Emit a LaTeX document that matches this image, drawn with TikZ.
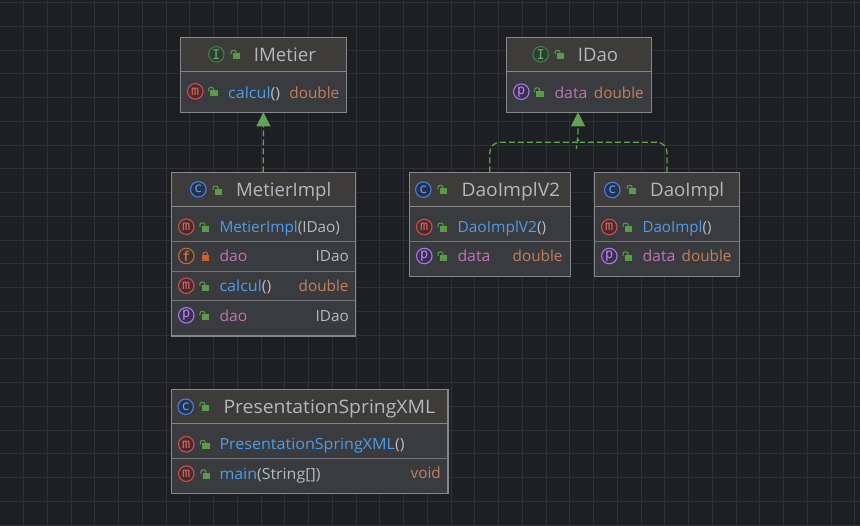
\documentclass[tikz,border=0pt]{standalone}
\usepackage{fontspec}
\usepackage{graphicx}
\setmainfont{Open Sans}
\newfontfamily\iconfont{DejaVu Sans Mono}
\usetikzlibrary{arrows.meta,calc}
\definecolor{bgc}{HTML}{1E1F22}
\definecolor{gridc}{HTML}{2F3033}
\definecolor{headc}{HTML}{3D3C3B}
\definecolor{bodyc}{HTML}{393B3F}
\definecolor{edgec}{HTML}{85878A}
\definecolor{titlec}{HTML}{B4B8BE}
\definecolor{mblue}{HTML}{4F9CE8}
\definecolor{morange}{HTML}{C4805F}
\definecolor{mpurple}{HTML}{BE74B4}
\definecolor{mgrey}{HTML}{B8BAC0}
\definecolor{lockg}{HTML}{5A9A4A}
\definecolor{lockr}{HTML}{C8602F}
\definecolor{depc}{HTML}{64A25A}
\definecolor{mygreen}{HTML}{3F7F45}\definecolor{mygreenf}{HTML}{2C3E2E}\definecolor{mygreent}{HTML}{6AAB73}
\definecolor{myblue}{HTML}{4A7FE0}\definecolor{mybluef}{HTML}{25324D}\definecolor{mybluet}{HTML}{6C9EF5}
\definecolor{myred}{HTML}{C9504F}\definecolor{myredf}{HTML}{4A2A2C}\definecolor{myredt}{HTML}{E06A68}
\definecolor{myorange}{HTML}{B0703F}\definecolor{myorangef}{HTML}{45302A}\definecolor{myoranget}{HTML}{CF8E6D}
\definecolor{mypurple}{HTML}{A67BE0}\definecolor{mypurplef}{HTML}{3A2F52}\definecolor{mypurplet}{HTML}{B58CF0}
\tikzset{
  x=1pt,y=-1pt,
  umlbox/.style={draw=edgec,line width=1.1pt,inner sep=0,outer sep=0},
  titletext/.style={anchor=base west,inner sep=0,text=titlec,font=\fontsize{18.6}{20}\selectfont},
  membertext/.style={anchor=base west,inner sep=0,text=mblue,font=\fontsize{15.3}{18}\selectfont},
  typetext/.style={anchor=base east,inner sep=0,text=morange,font=\fontsize{15.3}{18}\selectfont},
  icon/.style={circle,line width=1.1pt,minimum size=15.5pt,inner sep=0,font=\iconfont\fontsize{13.5}{14}\selectfont},
  icI/.style={icon,draw=mygreen,fill=mygreenf,text=mygreent},
  icC/.style={icon,draw=myblue,fill=mybluef,text=mybluet},
  icM/.style={icon,draw=myred,fill=myredf,text=myredt},
  icF/.style={icon,draw=myorange,fill=myorangef,text=myoranget},
  icP/.style={icon,draw=mypurple,fill=mypurplef,text=mypurplet},
  dep/.style={draw=depc,line width=1.25pt,dash pattern=on 6pt off 3pt},
  tip/.style={-{Triangle[width=14pt,length=14pt,fill=depc]}}
}
\newcommand{\fitw}[2]{\resizebox{#1pt}{\height}{#2}}
\newcommand{\openlk}[2]{%
  \fill[lockg] (#1-2.7,#2-1.7) rectangle (#1+4.8,#2+4.3);
  \draw[lockg,line width=1.1pt,rounded corners=2pt] (#1-4.4,#2-0.6) -- (#1-4.4,#2-4.6) -- (#1+0.6,#2-4.6) -- (#1+0.6,#2-1.5);
}
\newcommand{\closedlk}[2]{%
  \fill[lockr] (#1-3.7,#2-1) rectangle (#1+3.7,#2+4.5);
  \draw[lockr,line width=1.1pt,rounded corners=2pt] (#1-2.2,#2-1) -- (#1-2.2,#2-4.4) -- (#1+2.2,#2-4.4) -- (#1+2.2,#2-1);
}
% name, left, top, right, bottom, header bottom
\newcommand{\ubox}[6]{%
  \fill[bodyc] (#2,#3) rectangle (#4,#5);
  \fill[headc] (#2,#3) rectangle (#4,#6);
  \node[umlbox,minimum width={(#4-#2)*1pt},minimum height={(#5-#3)*1pt}] (#1) at ({(#2+#4)/2},{(#3+#5)/2}) {};
  \draw[edgec,line width=1.1pt] (#2,#6) -- (#4,#6);
}
\newcommand{\rowline}[3]{\draw[edgec!75!bodyc,line width=0.9pt] (#1,#3) -- (#2,#3);}
\newcommand{\gp}[1]{\textcolor{mgrey}{#1}}
\begin{document}
\begin{tikzpicture}
\path[use as bounding box,fill=bgc] (0,0) rectangle (860,526);
\foreach \k in {0,...,35} {\draw[gridc,line width=0.9pt] ({23.5+23.75*\k},0) -- ({23.5+23.75*\k},526);}
\foreach \k in {0,...,22} {\draw[gridc,line width=0.9pt] (0,{2.5+23.75*\k}) -- (860,{2.5+23.75*\k});}

% IMetier
\ubox{imetier}{180.5}{37.4}{346.4}{112.3}{71.8}
\node[icI] (imI) at (216.3,54.3) {I};
\openlk{235.5}{55}
\node[titletext] (imT) at (253.7,61.7) {\fitw{62}{IMetier}};
\node[icM] (imM) at (195.3,91.3) {m};
\openlk{213}{92}
\node[membertext] (imN) at (228,98.3) {\fitw{52}{calcul\gp{()}}};
\node[typetext] (imR) at (339.5,98.3) {double};

% IDao
\ubox{idao}{506.7}{37.4}{651.3}{112.3}{71.8}
\node[icI] (idI) at (540.7,54.3) {I};
\openlk{559.5}{55}
\node[titletext] (idT) at (577.7,61.7) {\fitw{40.3}{IDao}};
\node[icP] (idP) at (521.3,91.7) {p};
\openlk{539}{92.5}
\node[membertext,text=mpurple] (idN) at (554.3,98.3) {\fitw{33}{data}};
\node[typetext] (idR) at (644,98.3) {double};

% MetierImpl
\ubox{mimpl}{171.3}{172.5}{355.3}{336}{206.7}
\rowline{171.3}{355.3}{241.3}
\rowline{171.3}{355.3}{271.3}
\rowline{171.3}{355.3}{300.7}
\node[icC] (miC) at (198.3,189.3) {c};
\openlk{217.5}{190.7}
\node[titletext] (miT) at (236,196.7) {\fitw{95}{MetierImpl}};
\node[icM] (miA) at (186.3,226.7) {m};
\openlk{204.3}{227.5}
\node[membertext] (miAn) at (219.3,232.7) {\fitw{120.5}{MetierImpl\gp{(IDao)}}};
\node[icF] (miB) at (186.3,256) {f};
\closedlk{205.3}{256.5}
\node[membertext,text=mpurple] (miBn) at (219.3,261.7) {\fitw{27.7}{dao}};
\node[typetext,text=mgrey] (miBr) at (349,261.7) {IDao};
\node[icM] (miD) at (186.3,285.7) {m};
\openlk{204.3}{286.5}
\node[membertext] (miDn) at (219.3,291.7) {\fitw{52}{calcul\gp{()}}};
\node[typetext] (miDr) at (348.7,291.7) {double};
\node[icP] (miE) at (186.3,315.3) {p};
\openlk{204.3}{316}
\node[membertext,text=mpurple] (miEn) at (219.3,321.7) {\fitw{27.7}{dao}};
\node[typetext,text=mgrey] (miEr) at (349,321.7) {IDao};

% DaoImplV2
\ubox{dv}{409.3}{172.5}{570.3}{276.3}{206.7}
\rowline{409.3}{570.3}{241.3}
\node[icC] (dvC) at (423.3,189.7) {c};
\openlk{442.3}{190}
\node[titletext] (dvT) at (461.3,196.7) {\fitw{98.7}{DaoImplV2}};
\node[icM] (dvA) at (424.3,227) {m};
\openlk{442.5}{227.7}
\node[membertext] (dvAn) at (457.3,232.7) {\fitw{88.7}{DaoImplV2\gp{()}}};
\node[icP] (dvB) at (424.3,256) {p};
\openlk{442.5}{256.5}
\node[membertext,text=mpurple] (dvBn) at (457.3,261.7) {\fitw{33}{data}};
\node[typetext] (dvBr) at (562.7,261.7) {double};

% DaoImpl
\ubox{di}{594.7}{172.5}{739.3}{276.3}{206.7}
\rowline{594.7}{739.3}{241.3}
\node[icC] (diC) at (612.3,190) {c};
\openlk{631.5}{190}
\node[titletext] (diT) at (650,196.7) {\fitw{74}{DaoImpl}};
\node[icM] (diA) at (609.3,227) {m};
\openlk{627.5}{227.7}
\node[membertext] (diAn) at (642.3,232.7) {\fitw{69}{DaoImpl\gp{()}}};
\node[icP] (diB) at (609.3,256) {p};
\openlk{627.5}{256.5}
\node[membertext,text=mpurple] (diBn) at (642.3,261.7) {\fitw{33}{data}};
\node[typetext] (diBr) at (731.7,261.7) {double};

% PresentationSpringXML
\ubox{ps}{171.3}{389.3}{448}{493.3}{423.7}
\rowline{171.3}{448}{458.3}
\node[icC] (psC) at (185.7,406.7) {c};
\openlk{204.3}{407}
\node[titletext] (psT) at (223.3,413.3) {\fitw{211.7}{PresentationSpringXML}};
\node[icM] (psA) at (186.3,444.3) {m};
\openlk{204.7}{445}
\node[membertext] (psAn) at (219.3,450) {\fitw{185}{PresentationSpringXML\gp{()}}};
\node[icM] (psB) at (186.3,473.7) {m};
\openlk{205.3}{474.5}
\node[membertext] (psBn) at (219.3,479) {\fitw{101}{main\gp{(String[])}}};
\node[typetext] (psBr) at (441,479) {void};

% Connectors
\draw[dep,tip] (mimpl.north) -- (imetier.south);
\coordinate (jn) at ($(idao.south)+(-1,26.7)$);
\draw[dep,tip,rounded corners=10pt] (dv.north) -- (dv.north |- 0,142.3) -- (566,142.3) .. controls (572,142.3) and (577.5,142) .. (jn) -- (jn |- idao.south);
\draw[dep,rounded corners=10pt] (di.north) -- (di.north |- 0,142.3) -- (590,142.3) .. controls (584,142.3) and (578.5,142) .. (jn);
\end{tikzpicture}
\end{document}
